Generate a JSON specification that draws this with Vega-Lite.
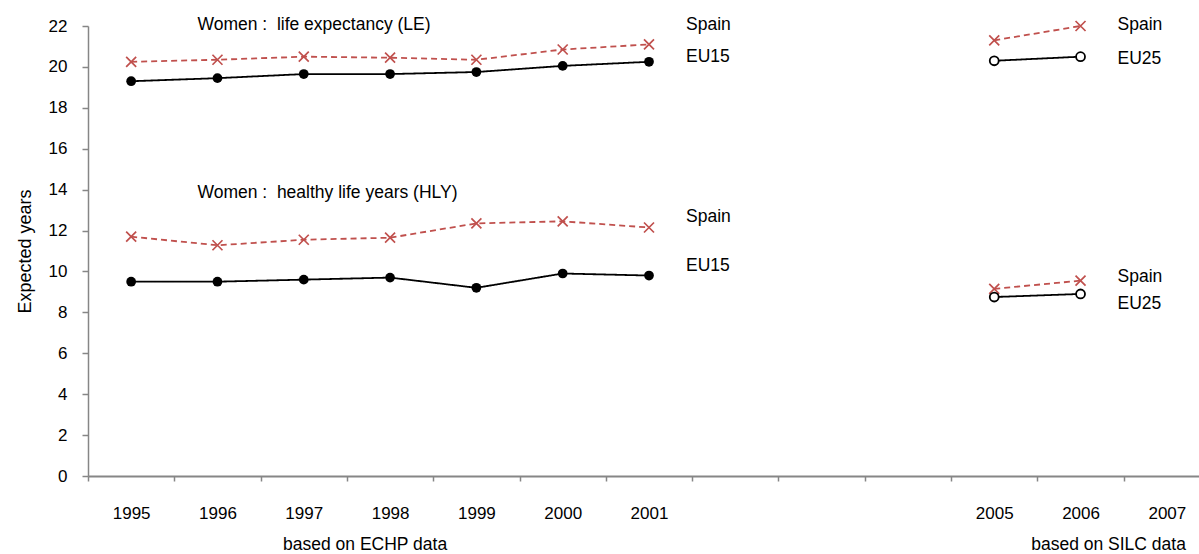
{
  "$schema": "https://vega.github.io/schema/vega-lite/v6.json",
  "autosize": {"type": "none"},
  "width": 1111,
  "height": 450,
  "padding": {"left": 88, "top": 26, "right": 0, "bottom": 78},
  "config": {"view": {"stroke": null}, "font": "Liberation Sans", "text": {"font": "Liberation Sans"}},
  "datasets": {
    "series": [
      {"year": "1995", "indicator": "LE", "area": "Spain", "value": 20.25},
      {"year": "1996", "indicator": "LE", "area": "Spain", "value": 20.35},
      {"year": "1997", "indicator": "LE", "area": "Spain", "value": 20.5},
      {"year": "1998", "indicator": "LE", "area": "Spain", "value": 20.45},
      {"year": "1999", "indicator": "LE", "area": "Spain", "value": 20.35},
      {"year": "2000", "indicator": "LE", "area": "Spain", "value": 20.85},
      {"year": "2001", "indicator": "LE", "area": "Spain", "value": 21.1},
      {"year": "1995", "indicator": "LE", "area": "EU15", "value": 19.3},
      {"year": "1996", "indicator": "LE", "area": "EU15", "value": 19.45},
      {"year": "1997", "indicator": "LE", "area": "EU15", "value": 19.65},
      {"year": "1998", "indicator": "LE", "area": "EU15", "value": 19.65},
      {"year": "1999", "indicator": "LE", "area": "EU15", "value": 19.75},
      {"year": "2000", "indicator": "LE", "area": "EU15", "value": 20.05},
      {"year": "2001", "indicator": "LE", "area": "EU15", "value": 20.25},
      {"year": "2005", "indicator": "LE", "area": "Spain (SILC)", "value": 21.3},
      {"year": "2006", "indicator": "LE", "area": "Spain (SILC)", "value": 22.0},
      {"year": "2005", "indicator": "LE", "area": "EU25", "value": 20.3},
      {"year": "2006", "indicator": "LE", "area": "EU25", "value": 20.5},
      {"year": "1995", "indicator": "HLY", "area": "Spain", "value": 11.7},
      {"year": "1996", "indicator": "HLY", "area": "Spain", "value": 11.28},
      {"year": "1997", "indicator": "HLY", "area": "Spain", "value": 11.55},
      {"year": "1998", "indicator": "HLY", "area": "Spain", "value": 11.65},
      {"year": "1999", "indicator": "HLY", "area": "Spain", "value": 12.35},
      {"year": "2000", "indicator": "HLY", "area": "Spain", "value": 12.45},
      {"year": "2001", "indicator": "HLY", "area": "Spain", "value": 12.15},
      {"year": "1995", "indicator": "HLY", "area": "EU15", "value": 9.5},
      {"year": "1996", "indicator": "HLY", "area": "EU15", "value": 9.5},
      {"year": "1997", "indicator": "HLY", "area": "EU15", "value": 9.6},
      {"year": "1998", "indicator": "HLY", "area": "EU15", "value": 9.7},
      {"year": "1999", "indicator": "HLY", "area": "EU15", "value": 9.2},
      {"year": "2000", "indicator": "HLY", "area": "EU15", "value": 9.9},
      {"year": "2001", "indicator": "HLY", "area": "EU15", "value": 9.8},
      {"year": "2005", "indicator": "HLY", "area": "Spain (SILC)", "value": 9.15},
      {"year": "2006", "indicator": "HLY", "area": "Spain (SILC)", "value": 9.55},
      {"year": "2005", "indicator": "HLY", "area": "EU25", "value": 8.75},
      {"year": "2006", "indicator": "HLY", "area": "EU25", "value": 8.9}
    ],
    "seriesLabels": [
      {"year": "2001", "value": 22.05, "label": "Spain"},
      {"year": "2001", "value": 20.5, "label": "EU15"},
      {"year": "2001", "value": 12.67, "label": "Spain"},
      {"year": "2001", "value": 10.27, "label": "EU15"},
      {"year": "2006", "value": 22.05, "label": "Spain"},
      {"year": "2006", "value": 20.4, "label": "EU25"},
      {"year": "2006", "value": 9.73, "label": "Spain"},
      {"year": "2006", "value": 8.41, "label": "EU25"}
    ],
    "panelTitles": [
      {"year": "1996", "value": 22.05, "label": "Women :\u00a0 life expectancy (LE)"},
      {"year": "1996", "value": 13.85, "label": "Women :\u00a0 healthy life years (HLY)"}
    ],
    "sources": [
      {"year": "1998", "value": -3.35, "label": "based on ECHP data", "source": "ECHP"},
      {"year": "2006", "value": -3.35, "label": "based on SILC data", "source": "SILC"}
    ]
  },
  "encoding": {
    "x": {
      "field": "year",
      "type": "ordinal",
      "scale": {
        "type": "band",
        "domain": ["1995", "1996", "1997", "1998", "1999", "2000", "2001", "2002", "2003", "2004", "2005", "2006", "2007"],
        "range": [0, 1122],
        "paddingInner": 0,
        "paddingOuter": 0
      },
      "axis": {
        "title": null,
        "labelAngle": 0,
        "labelExpr": "datum.label == '2002' || datum.label == '2003' || datum.label == '2004' ? '' : datum.label",
        "tickBand": "extent",
        "domainColor": "#868686",
        "domainWidth": 2,
        "tickColor": "#868686",
        "tickWidth": 1.5,
        "tickSize": 5,
        "labelFontSize": 17,
        "labelColor": "#000000",
        "labelPadding": 24
      }
    },
    "y": {
      "field": "value",
      "type": "quantitative",
      "scale": {"domain": [0, 22], "nice": false, "zero": false},
      "axis": {
        "values": [0, 2, 4, 6, 8, 10, 12, 14, 16, 18, 20, 22],
        "grid": false,
        "domainColor": "#868686",
        "domainWidth": 1.5,
        "tickColor": "#868686",
        "tickWidth": 1.5,
        "tickSize": 6,
        "labelFontSize": 17,
        "labelColor": "#000000",
        "labelPadding": 15,
        "title": "Expected years",
        "titleFontSize": 18,
        "titleFontWeight": "normal",
        "titleColor": "#000000",
        "titlePadding": 14
      }
    }
  },
  "layer": [
    {
      "data": {"name": "series"},
      "mark": {"type": "line", "strokeWidth": 1.8},
      "encoding": {
        "color": {
          "field": "area",
          "type": "nominal",
          "scale": {"domain": ["Spain", "EU15", "Spain (SILC)", "EU25"], "range": ["#C0504D", "#000000", "#C0504D", "#000000"]},
          "legend": null
        },
        "strokeDash": {
          "field": "area",
          "type": "nominal",
          "scale": {"domain": ["Spain", "EU15", "Spain (SILC)", "EU25"], "range": [[6, 4], [1, 0], [6, 4], [1, 0]]},
          "legend": null
        },
        "detail": {"field": "indicator"}
      }
    },
    {
      "data": {"name": "series"},
      "transform": [{"filter": "datum.area == 'Spain' || datum.area == 'Spain (SILC)'"}],
      "mark": {"type": "point", "shape": "M-1,-1L1,1M-1,1L1,-1", "filled": false, "stroke": "#C0504D", "strokeWidth": 1.7, "size": 100, "opacity": 1}
    },
    {
      "data": {"name": "series"},
      "transform": [{"filter": "datum.area == 'EU15'"}],
      "mark": {"type": "point", "shape": "circle", "filled": true, "fill": "#000000", "size": 95, "opacity": 1}
    },
    {
      "data": {"name": "series"},
      "transform": [{"filter": "datum.area == 'EU25'"}],
      "mark": {"type": "point", "shape": "circle", "filled": false, "fill": "#ffffff", "fillOpacity": 1, "stroke": "#000000", "strokeWidth": 1.8, "size": 80, "opacity": 1}
    },
    {
      "data": {"name": "seriesLabels"},
      "mark": {"type": "text", "align": "left", "baseline": "middle", "dx": 37, "fontSize": 17.5, "color": "#000000"},
      "encoding": {"text": {"field": "label"}}
    },
    {
      "data": {"name": "panelTitles"},
      "mark": {"type": "text", "align": "left", "baseline": "middle", "dx": -20, "fontSize": 17.5, "color": "#000000"},
      "encoding": {"text": {"field": "label"}}
    },
    {
      "data": {"name": "sources"},
      "transform": [{"filter": "datum.source == 'ECHP'"}],
      "mark": {"type": "text", "align": "center", "baseline": "middle", "dx": -25, "fontSize": 17.5, "color": "#000000"},
      "encoding": {"text": {"field": "label"}}
    },
    {
      "data": {"name": "sources"},
      "transform": [{"filter": "datum.source == 'SILC'"}],
      "mark": {"type": "text", "align": "center", "baseline": "middle", "dx": 28, "fontSize": 17.5, "color": "#000000"},
      "encoding": {"text": {"field": "label"}}
    }
  ]
}
